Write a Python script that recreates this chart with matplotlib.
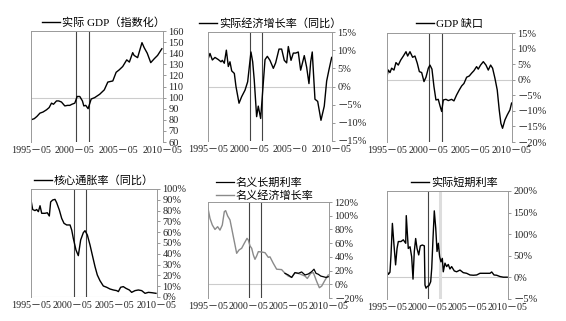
import numpy as np
import matplotlib
matplotlib.use('Agg')
import matplotlib.pyplot as plt

plt.rcParams['font.family'] = ['Liberation Serif', 'Noto Sans CJK SC', 'DejaVu Sans']
plt.rcParams['axes.unicode_minus'] = False

# ---- datos (anios decimales, valores) ----
gdp_x = [1995.33, 1995.7, 1996.0, 1996.35, 1996.7, 1997.1, 1997.4, 1997.67, 1997.9, 1998.24,
         1998.5, 1998.81, 1999.19, 1999.5, 1999.76, 2000.0, 2000.33, 2000.6, 2000.9, 2001.2,
         2001.36, 2001.58, 2001.85, 2002.2, 2002.6, 2003.17, 2003.7, 2004.1, 2004.67, 2005.05,
         2005.4, 2005.8, 2006.26, 2006.56, 2006.94, 2007.1, 2007.5, 2008.0, 2008.25, 2008.6,
         2009.0, 2009.4, 2009.78, 2010.27]
gdp_y = [80, 81, 83, 86, 87, 89, 91, 95, 94, 97,
         97, 96, 92.5, 93, 93, 94, 95, 101, 101, 97,
         92.5, 93, 90, 98.7, 100, 103, 107, 114, 115, 122.8,
         125, 128, 134, 132, 140.5, 138, 136, 149.5, 145, 140,
         131.5, 135, 138, 144]

growth_x = [1995.37, 1995.57, 1995.86, 1996.18, 1996.59, 1996.91, 1997.07, 1997.31, 1997.56, 1997.8,
            1998.0, 1998.21, 1998.53, 1998.73, 1999.1, 1999.42, 1999.83, 2000.15, 2000.55, 2000.76,
            2000.95, 2001.24, 2001.44, 2001.73, 2002.26, 2002.54, 2002.86, 2003.27, 2003.55, 2003.96,
            2004.28, 2004.6, 2004.89, 2005.09, 2005.42, 2005.7, 2005.99, 2006.3, 2006.59, 2006.79,
            2007.03, 2007.32, 2007.6, 2007.81, 2008.0, 2008.33, 2008.66, 2009.06, 2009.46, 2009.75,
            2010.03, 2010.36]
growth_y = [7.75, 9.1, 7.3, 8, 7.4, 6.8, 7.2, 6.4, 10, 5.5,
            6.8, 4.3, 3.6, 0, -4.6, -2.8, -1, 1.3, 9.5, 6.8,
            1.8, -8.3, -5.4, -8.8, 7.4, 8.3, 7.2, 5, 6.5, 10.3,
            10.3, 7.2, 6.5, 11, 7.2, 9.2, 9.2, 9.5, 4.5, 6.3,
            8.5, 5.3, 0.8, 6.8, 9.5, -3.5, -4.1, -9.3, -5.4, 1.5,
            4.6, 8]

gap_x = [1995.33, 1995.49, 1995.69, 1995.89, 1996.17, 1996.41, 1996.69, 1996.98, 1997.3, 1997.62,
         1997.82, 1998.1, 1998.42, 1998.7, 1998.98, 1999.23, 1999.51, 1999.79, 2000.03, 2000.31,
         2000.51, 2000.75, 2000.99, 2001.23, 2001.51, 2001.72, 2001.92, 2002.12, 2002.44, 2002.72,
         2003.12, 2003.4, 2003.72, 2004.04, 2004.33, 2004.61, 2004.93, 2005.25, 2005.53, 2005.81,
         2006.13, 2006.33, 2006.61, 2006.94, 2007.26, 2007.54, 2007.82, 2008.06, 2008.34, 2008.62,
         2008.86, 2009.06, 2009.26, 2009.55, 2009.83, 2010.15, 2010.35]
gap_y = [1.1, 3.1, 2.3, 3.7, 3.1, 5.5, 4.7, 6.3, 7.6, 9.0,
         7.6, 9.0, 7.2, 7.6, 5.3, 2.6, 2.3, -0.6, 0.8, 3.7,
         4.7, 3.4, -2.2, -6.5, -6.3, -8.4, -10.2, -6.5, -6.3, -6.7,
         -6.3, -6.8, -4.9, -3.3, -2.0, -1.2, 0.8, 1.2, 2.1, 2.9,
         4.2, 3.4, 4.7, 5.8, 4.7, 3.1, 4.7, 3.7, 0.5, -3.3,
         -9.7, -14, -15.6, -12.9, -11.3, -9.7, -7.5]

core_x = [1995.33, 1995.53, 1995.81, 1996.01, 1996.21, 1996.41, 1996.61, 1997.0, 1997.28, 1997.52,
          1997.68, 1997.92, 1998.2, 1998.4, 1998.72, 1999.0, 1999.28, 1999.6, 2000.0, 2000.2,
          2000.39, 2000.71, 2000.99, 2001.27, 2001.59, 2001.79, 2002.07, 2002.39, 2002.71, 2002.99,
          2003.26, 2003.58, 2003.98, 2004.38, 2004.78, 2005.18, 2005.58, 2005.78, 2006.05, 2006.37,
          2006.69, 2007.09, 2007.37, 2007.77, 2008.17, 2008.57, 2008.97, 2009.37, 2009.77, 2010.28]
core_y = [89.8, 81, 80, 81, 79, 84.5, 77.5, 77.5, 78, 75,
          88, 89.8, 90.4, 87.3, 80.5, 72.8, 68.2, 66.7, 66.7, 62,
          54.3, 43.5, 38.3, 52.8, 59.6, 61.4, 57.4, 48.1, 37.3, 28,
          20.4, 15.1, 10.2, 9, 7.4, 6.5, 5.9, 5, 9, 9.6,
          8, 6.5, 4.3, 5.9, 6.5, 5.9, 3.4, 4.3, 4, 3.4]

nom_growth_x = [1995.33, 1995.58, 1995.87, 1996.2, 1996.53, 1996.82, 1997.11, 1997.36, 1997.53, 1997.78,
                1998.07, 1998.28, 1998.61, 1998.9, 1999.19, 1999.52, 1999.85, 2000.19, 2000.35, 2000.56,
                2000.77, 2000.98, 2001.18, 2001.39, 2001.6, 2002.01, 2002.43, 2002.84, 2003.05, 2003.46,
                2003.88, 2004.5, 2004.92, 2005.33, 2005.75, 2006.16, 2006.79, 2007.41, 2007.7, 2008.12,
                2008.45, 2008.87, 2009.2, 2009.49, 2009.9, 2010.31]
nom_growth_y = [110.8, 96, 86.4, 80, 84, 79, 86.4, 105.9, 107.4, 99.6,
                93.8, 81.6, 62.2, 45.2, 50, 52.5, 59.8, 67, 64.6, 55.9,
                52.5, 42.7, 36.4, 41.3, 47.6, 47.1, 46.1, 39.3, 40, 30.6,
                22, 21.4, 16, 12, 10, 17, 15, 12, 8.5, 16,
                17, 4, -5, -2.6, 6, 13.6]

long_rate_x = [2004.92, 2005.33, 2005.75, 2006.16, 2006.58, 2006.99, 2007.41, 2007.82, 2008.24, 2008.53,
               2008.78, 2009.07, 2009.37, 2009.7, 2010.03, 2010.31]
long_rate_y = [16, 13.6, 10, 17, 16, 18, 13.6, 15, 18.4, 22,
               16, 14.6, 12, 11, 10, 11]

short_x = [1995.3, 1995.5, 1995.7, 1995.83, 1996.0, 1996.2, 1996.4, 1996.58, 1996.74, 1997.07,
           1997.36, 1997.66, 1997.73, 1997.98, 1998.2, 1998.4, 1998.57, 1998.73, 1998.9, 1999.07,
           1999.28, 1999.48, 1999.73, 1999.98, 2000.06, 2000.19, 2000.35, 2000.56, 2000.77, 2000.9,
           2001.06, 2001.22, 2001.4, 2001.56, 2001.72, 2001.89, 2002.05, 2002.22, 2002.34, 2002.55,
           2002.76, 2002.96, 2003.17, 2003.38, 2003.71, 2004.0, 2004.42, 2004.83, 2005.25, 2005.67,
           2006.08, 2006.5, 2006.91, 2007.32, 2007.74, 2008.16, 2008.37, 2008.66, 2008.99, 2009.4,
           2009.82, 2010.3]
short_y = [17, 7, 12, 52, 125, 75, 29, 67, 83, 83,
           87, 79, 143, 67, 71, 48, -4, 60, 90, 67,
           52, 73, 75, 73, -17.6, -25, -21, -19, -10, 21,
           90, 154, 114, 60, 79, 48, 36, 44, 13, 33,
           25, 30, 19.5, 25, 15, 13, 17, 11, 9.5, 5.6,
           5, 5.6, 9.5, 9.5, 9.5, 9.5, 12.6, 5.6, 5, 2,
           0.5, 0.5]

# etiquetas del eje x
x_ticks = [1995.33, 2000.33, 2005.33, 2010.33]
x_labels = ['1995－05', '2000－05', '2005－05', '2010－05']
x_labels_b = ['1995－05', '2000－05', '2005－0', '2010－05']
lineas_v = [2000.42, 2001.92]

# ---- figura ----
W, H = 566, 321
fig = plt.figure(figsize=(W / 100, H / 100), dpi=100)

def add_ax(left, right, top, bottom):
    return fig.add_axes([left / W, 1 - bottom / H, (right - left) / W, (bottom - top) / H])

def style(ax, ylim, yticks, ylabels, ref, xlabels, gris_band=False):
    ax.set_xlim(1995.33, 2010.4)
    ax.set_ylim(*ylim)
    ax.yaxis.tick_right()
    ax.set_yticks(yticks)
    ax.set_yticklabels(ylabels, fontsize=7.5, color='#222222')
    ax.tick_params(axis='y', length=2.5, width=0.6, color='#888888', pad=1.5)
    ax.set_xticks(x_ticks)
    ax.set_xticklabels(xlabels, fontsize=7.2, color='#222222')
    ax.tick_params(axis='x', length=0, pad=3)
    for s in ['left', 'right', 'top']:
        ax.spines[s].set_color('#999999')
        ax.spines[s].set_linewidth(0.7)
    ax.spines['bottom'].set_visible(False)
    ax.axhline(ref, color='#cccccc', lw=0.8, zorder=1)
    ax.axvline(lineas_v[0], color='#444444', lw=0.8, zorder=1)
    if gris_band:
        ax.axvline(lineas_v[1], color='#dddddd', lw=2.2, zorder=1)
    else:
        ax.axvline(lineas_v[1], color='#444444', lw=0.8, zorder=1)

def leyenda(ax, dx=0.0, dy=0.0):
    ax.legend(loc='lower center', bbox_to_anchor=(0.5 + dx, 1.0 + dy), frameon=False,
              fontsize=8, handlelength=1.6, handletextpad=0.2, borderaxespad=0,
              borderpad=0.1, labelspacing=0.3)

pct = lambda v: ('－%d%%' % -v) if v < 0 else ('%d%%' % v)

# 1. PIB real
ax1 = add_ax(31, 163, 31, 142)
ax1.plot(gdp_x, gdp_y, color='black', lw=1.0, label='实际 GDP（指数化）')
t = list(range(60, 161, 10))
style(ax1, (60, 160), t, [str(v) for v in t], 100, x_labels)
leyenda(ax1, 0.05, 0.02)

# 2. crecimiento real
ax2 = add_ax(208, 332, 32, 141)
ax2.plot(growth_x, growth_y, color='black', lw=1.0, label='实际经济增长率（同比）')
t = list(range(-15, 16, 5))
style(ax2, (-15, 15), t, [pct(v) for v in t], 0, x_labels_b)
leyenda(ax2, 0.0, 0.02)

# 3. brecha del PIB
ax3 = add_ax(387, 512, 33, 142)
ax3.plot(gap_x, gap_y, color='black', lw=1.0, label='GDP 缺口')
t = list(range(-20, 16, 5))
style(ax3, (-20, 15), t, [pct(v) for v in t], 0, x_labels)
leyenda(ax3, 0.0, 0.03)

# 4. inflacion subyacente
ax4 = add_ax(31, 157, 189, 297)
ax4.plot(core_x, core_y, color='black', lw=1.0, label='核心通胀率（同比）')
t = list(range(0, 101, 10))
style(ax4, (0, 100), t, [pct(v) for v in t], 0, x_labels)
leyenda(ax4, 0.0, 0.02)

# 5. tipo largo nominal y crecimiento nominal
ax5 = add_ax(208, 329, 202, 298)
ax5.plot(nom_growth_x, nom_growth_y, color='#8a8a8a', lw=1.0, label='名义经济增长率', zorder=2)
ax5.plot(long_rate_x, long_rate_y, color='black', lw=0.9, label='名义长期利率', zorder=3)
t = list(range(-20, 121, 20))
style(ax5, (-20, 120), t, [pct(v) for v in t], 0, x_labels)
h, l = ax5.get_legend_handles_labels()
ax5.legend(h[::-1], l[::-1], loc='lower center', bbox_to_anchor=(0.47, 1.0), frameon=False,
           fontsize=8, handlelength=1.6, handletextpad=0.2, borderaxespad=0,
           borderpad=0.1, labelspacing=0.2)

# 6. tipo corto real
ax6 = add_ax(387, 508, 191, 299)
ax6.plot(short_x, short_y, color='black', lw=1.0, label='实际短期利率')
t = [-50, 0, 50, 100, 150, 200]
style(ax6, (-50, 200), t, ['－5%', '0%', '50%', '100%', '150%', '200%'], 0, x_labels, gris_band=True)
leyenda(ax6, 0.06, 0.02)

fig.savefig('out.png', dpi=100)
